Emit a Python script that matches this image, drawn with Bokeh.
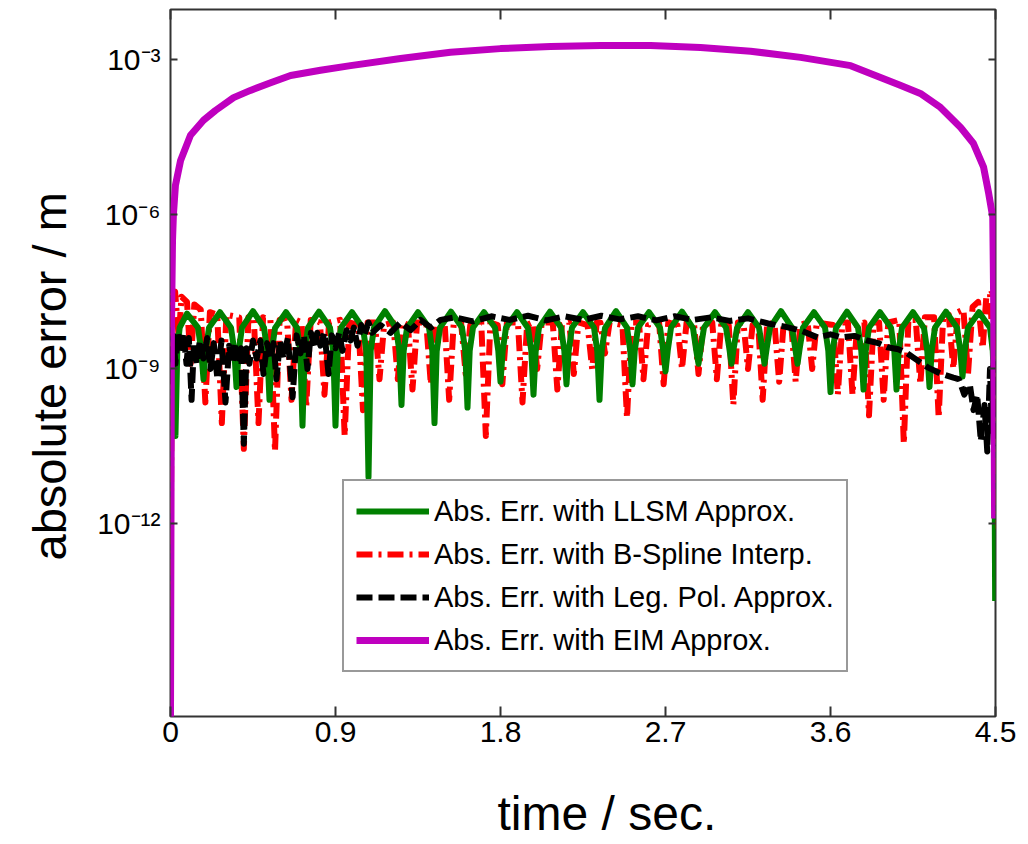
from bokeh.plotting import figure
from bokeh.models import (Range1d, FixedTicker, LinearAxis, LogAxis, Title,
                          Legend, LegendItem)
from bokeh.embed import file_html
from bokeh.resources import INLINE

FONT = "Liberation Sans"

# ---------------- axes / labels ----------------
x_ticks = [0.0, 0.9, 1.8, 2.7, 3.6, 4.5]
x_tick_labels = ["0", "0.9", "1.8", "2.7", "3.6", "4.5"]
y_ticks = [1e-12, 1e-9, 1e-6, 1e-3]
y_tick_labels = ["10\u207b\u00b9\u00b2", "10\u207b\u2079", "10\u207b\u2076", "10\u207b\u00b3"]
x_limits = [0.0, 4.5]
y_limits = [1.82e-16, 9.3e-3]
x_title = "time / sec."
y_title = "absolute error / m"
series_names = ["Abs. Err. with LLSM Approx.",
                "Abs. Err. with B-Spline Interp.",
                "Abs. Err. with Leg. Pol. Approx.",
                "Abs. Err. with EIM Approx."]

# ---------------- data (time in s, log10 of absolute error) ----------------
llsm_t = [0.0, 0.005, 0.011, 0.02, 0.027, 0.037, 0.05, 0.09, 0.15, 0.168,
          0.18, 0.192, 0.21, 0.27, 0.33, 0.348,
          0.36, 0.372, 0.39, 0.45, 0.51, 0.528,
          0.54, 0.552, 0.57, 0.63, 0.69, 0.708,
          0.72, 0.732, 0.75, 0.81, 0.87, 0.888,
          0.90, 0.912, 0.93, 0.99, 1.05, 1.068,
          1.08, 1.092, 1.11, 1.17, 1.23, 1.248,
          1.26, 1.272, 1.29, 1.35, 1.41, 1.428,
          1.44, 1.452, 1.47, 1.53, 1.59, 1.608,
          1.62, 1.632, 1.65, 1.71, 1.77, 1.788,
          1.80, 1.812, 1.83, 1.89, 1.95, 1.968,
          1.98, 1.992, 2.01, 2.07, 2.13, 2.148,
          2.16, 2.172, 2.19, 2.25, 2.31, 2.328,
          2.34, 2.352, 2.37, 2.43, 2.49, 2.508,
          2.52, 2.532, 2.55, 2.61, 2.67, 2.688,
          2.70, 2.712, 2.73, 2.79, 2.85, 2.868,
          2.88, 2.892, 2.91, 2.97, 3.03, 3.048,
          3.06, 3.072, 3.09, 3.15, 3.21, 3.228,
          3.24, 3.252, 3.27, 3.33, 3.39, 3.408,
          3.42, 3.432, 3.45, 3.51, 3.57, 3.588,
          3.60, 3.612, 3.63, 3.69, 3.75, 3.768,
          3.78, 3.792, 3.81, 3.87, 3.93, 3.948,
          3.96, 3.972, 3.99, 4.05, 4.11, 4.128,
          4.14, 4.152, 4.17, 4.23, 4.29, 4.308,
          4.32, 4.332, 4.35, 4.41, 4.47, 4.485,
          4.493, 4.498]
llsm_log10 = [-13.8, -8.9, -8.4, -9.2, -10.3, -8.65, -8.2, -7.93, -8.2, -8.65,
              -9.2, -8.65, -8.2, -7.9, -8.2, -8.65,
              -9.35, -8.65, -8.2, -7.88, -8.2, -8.65,
              -9.6, -8.66, -8.21, -7.9, -8.2, -8.65,
              -10.1, -8.65, -8.2, -7.89, -8.2, -8.66,
              -10.1, -8.66, -8.2, -7.9, -8.21, -8.65,
              -11.1, -8.65, -8.2, -7.88, -8.2, -8.65,
              -9.7, -8.65, -8.21, -7.9, -8.2, -8.65,
              -10.05, -8.66, -8.2, -7.89, -8.2, -8.66,
              -9.75, -8.65, -8.2, -7.9, -8.2, -8.65,
              -9.25, -8.65, -8.2, -7.9, -8.21, -8.65,
              -9.5, -8.66, -8.2, -7.89, -8.2, -8.65,
              -9.3, -8.65, -8.2, -7.9, -8.2, -8.66,
              -9.6, -8.65, -8.21, -7.88, -8.2, -8.65,
              -9.3, -8.66, -8.2, -7.9, -8.2, -8.65,
              -9.05, -8.65, -8.2, -7.89, -8.21, -8.65,
              -8.9, -8.6, -8.2, -7.9, -8.2, -8.6,
              -8.9, -8.6, -8.21, -7.9, -8.2, -8.6,
              -8.9, -8.6, -8.2, -7.88, -8.2, -8.61,
              -8.9, -8.6, -8.2, -7.9, -8.2, -8.65,
              -9.45, -8.65, -8.21, -7.89, -8.2, -8.65,
              -9.4, -8.66, -8.2, -7.9, -8.2, -8.65,
              -9.4, -8.65, -8.2, -7.9, -8.21, -8.66,
              -9.35, -8.65, -8.2, -7.89, -8.2, -8.65,
              -9.15, -8.65, -8.2, -7.9, -8.2, -8.65,
              -9.4, -13.5]

bspline_t = [0.0, 0.008, 0.025, 0.045, 0.06, 0.09, 0.11, 0.13, 0.165,
             0.19, 0.215, 0.255, 0.28, 0.305, 0.375, 0.40, 0.425, 0.455,
             0.48, 0.505, 0.545, 0.57, 0.595, 0.635, 0.66, 0.685, 0.715,
             0.74, 0.765, 0.815, 0.84, 0.865, 0.925, 0.95, 0.975, 1.025,
             1.05, 1.075, 1.115, 1.14, 1.165, 1.215, 1.24, 1.265, 1.295,
             1.32, 1.345, 1.395, 1.42, 1.445, 1.495, 1.52, 1.545, 1.585,
             1.61, 1.635, 1.695, 1.72, 1.745, 1.785, 1.81, 1.835, 1.895,
             1.92, 1.945, 1.975, 2.00, 2.025, 2.085, 2.11, 2.135, 2.175,
             2.20, 2.225, 2.275, 2.30, 2.325, 2.345, 2.37, 2.395, 2.465,
             2.49, 2.515, 2.555, 2.58, 2.605, 2.665, 2.69, 2.715, 2.765,
             2.79, 2.815, 2.855, 2.88, 2.905, 2.955, 2.98, 3.005, 3.045,
             3.07, 3.095, 3.125, 3.15, 3.175, 3.205, 3.23, 3.255, 3.295,
             3.32, 3.345, 3.385, 3.41, 3.435, 3.475, 3.50, 3.525, 3.615,
             3.64, 3.665, 3.695, 3.72, 3.745, 3.785, 3.81, 3.835, 3.865,
             3.89, 3.915, 3.975, 4.00, 4.025, 4.065, 4.09, 4.115, 4.165,
             4.19, 4.215, 4.245, 4.27, 4.295, 4.325, 4.35, 4.375, 4.405,
             4.43, 4.45, 4.47, 4.485, 4.492, 4.498]
bspline_log10 = [-13.6, -7.6, -7.5, -8.4, -7.6, -7.7, -8.9, -7.75, -7.85,
                 -9.65, -7.9, -7.95, -10.05, -7.95, -8.0, -10.55, -8.0, -8.05,
                 -10.05, -8.0, -8.05, -10.6, -8.05, -8.0, -9.6, -8.05, -8.1,
                 -9.75, -8.05, -8.1, -9.5, -8.1, -8.05, -10.3, -8.1, -8.15,
                 -9.8, -8.1, -8.1, -9.2, -8.15, -8.1, -9.2, -8.1, -8.15,
                 -9.4, -8.1, -8.1, -9.3, -8.15, -8.1, -9.6, -8.1, -8.1,
                 -9.1, -8.15, -8.1, -10.3, -8.1, -8.15, -9.3, -8.1, -8.1,
                 -9.65, -8.15, -8.1, -9.0, -8.1, -8.1, -9.4, -8.15, -8.1,
                 -9.1, -8.1, -8.15, -9.0, -8.1, -8.1, -8.7, -8.1, -8.15,
                 -9.95, -8.1, -8.1, -9.2, -8.15, -8.1, -9.3, -8.1, -8.15,
                 -9.0, -8.1, -8.1, -9.1, -8.15, -8.1, -9.2, -8.1, -8.15,
                 -9.7, -8.1, -8.1, -9.0, -8.15, -8.1, -9.6, -8.1, -8.15,
                 -9.25, -8.1, -8.1, -9.25, -8.15, -8.1, -9.0, -8.1, -8.15,
                 -9.5, -8.1, -8.1, -9.5, -8.15, -8.1, -9.9, -8.1, -8.1,
                 -9.6, -8.1, -8.05, -10.45, -8.05, -8.05, -9.3, -8.0, -8.0,
                 -9.95, -7.95, -7.95, -9.0, -7.9, -7.85, -9.1, -7.8, -7.7,
                 -8.6, -7.6, -7.55, -8.5, -10.0, -12.1]

legpol_t = [0.0, 0.005, 0.016, 0.027, 0.04, 0.055, 0.07, 0.087, 0.1, 0.115,
            0.128, 0.142, 0.16, 0.18, 0.2, 0.218, 0.236, 0.256, 0.278, 0.30,
            0.32, 0.338, 0.355, 0.371, 0.385, 0.40, 0.415, 0.43, 0.45, 0.47,
            0.49, 0.507, 0.527, 0.546, 0.562, 0.578, 0.597, 0.616, 0.64, 0.666,
            0.688, 0.709, 0.728, 0.747, 0.766, 0.786, 0.80, 0.818, 0.84, 0.862,
            0.88, 0.90, 0.92, 0.938, 0.96, 0.982, 1.0, 1.02, 1.04, 1.058,
            1.08, 1.10, 1.146, 1.20, 1.255, 1.31, 1.364, 1.42, 1.473, 1.55,
            1.65, 1.75, 1.85, 1.95, 2.05, 2.15, 2.25, 2.35, 2.45, 2.55,
            2.65, 2.75, 2.85, 2.95, 3.05, 3.15, 3.26, 3.35, 3.44, 3.53,
            3.60, 3.66, 3.73, 3.80, 3.86, 3.91, 3.97, 4.02, 4.08, 4.13,
            4.2, 4.27, 4.30, 4.33, 4.36, 4.38, 4.40, 4.42, 4.44, 4.455,
            4.47, 4.48, 4.49, 4.497]
legpol_log10 = [-9.3, -8.8, -8.35, -8.9, -8.3, -8.7, -8.3, -8.9, -8.4, -9.6,
                -8.5, -8.9, -8.45, -8.8, -8.4, -9.0, -8.5, -9.2, -8.45, -9.65,
                -8.55, -8.9, -8.5, -8.8, -8.6, -10.45, -8.6, -8.9, -8.45, -8.8,
                -8.45, -9.1, -8.5, -8.8, -8.5, -9.2, -8.45, -8.8, -8.4, -9.55,
                -8.35, -8.7, -8.35, -9.0, -8.3, -8.6, -8.3, -8.55, -8.3, -9.1,
                -8.35, -8.6, -8.3, -8.65, -8.25, -8.45, -8.2, -8.55, -8.15, -8.35,
                -8.1, -8.3, -8.15, -8.3, -8.1, -8.25, -8.05, -8.2, -8.05, -8.0,
                -8.08, -7.98, -8.05, -7.97, -8.06, -7.98, -8.05, -7.97, -8.04, -7.98,
                -8.06, -7.98, -8.05, -8.0, -8.07, -8.02, -8.12, -8.18, -8.26, -8.39,
                -8.33, -8.39, -8.36, -8.45, -8.5, -8.58, -8.62, -8.7, -8.85, -8.97,
                -9.09, -9.17, -9.2, -9.5, -9.3, -9.8, -9.5, -10.4, -9.7, -10.6,
                -9.0, -10.2, -8.9, -10.5]

eim_t = [0.0, 0.003, 0.005, 0.011, 0.016, 0.027, 0.055, 0.109, 0.18, 0.245,
         0.344, 0.436, 0.546, 0.655, 0.818, 0.982, 1.255, 1.527, 1.80, 2.073,
         2.346, 2.619, 2.891, 3.164, 3.437, 3.71, 3.98, 4.09, 4.20, 4.31,
         4.38, 4.435, 4.463, 4.485, 4.49, 4.495]
eim_log10 = [-15.8, -11.5, -8.26, -6.51, -6.0, -5.44, -4.96, -4.47, -4.18, -3.99,
             -3.74, -3.60, -3.45, -3.31, -3.21, -3.12, -2.98, -2.86, -2.79, -2.75,
             -2.73, -2.73, -2.77, -2.84, -2.96, -3.12, -3.50, -3.66, -3.93, -4.32,
             -4.63, -5.09, -5.60, -6.06, -7.67, -11.9]

llsm_v = [10 ** e for e in llsm_log10]
bspline_v = [10 ** e for e in bspline_log10]
legpol_v = [10 ** e for e in legpol_log10]
eim_v = [10 ** e for e in eim_log10]

# ---------------- figure ----------------
p = figure(frame_width=825, frame_height=707,
           x_range=Range1d(*x_limits), y_range=Range1d(*y_limits),
           y_axis_type="log", output_backend="svg", toolbar_location=None,
           min_border_left=170, min_border_right=25, min_border_top=9,
           min_border_bottom=127, background_fill_color="white",
           border_fill_color="white")
p.grid.visible = False
p.outline_line_color = "#333333"
p.outline_line_width = 2

r_red = p.line(bspline_t, bspline_v, line_color="#ff0000", line_width=6,
               line_dash="16 6 3 6", line_join="round")
r_green = p.line(llsm_t, llsm_v, line_color="#008000", line_width=6,
                 line_join="round")
r_black = p.line(legpol_t, legpol_v, line_color="#000000", line_width=6,
                 line_dash="16 6", line_join="round")
r_mag = p.line(eim_t, eim_v, line_color="#bf00bf", line_width=7,
               line_join="round")

# bottom axis
xa = p.xaxis[0]
xa.ticker = FixedTicker(ticks=x_ticks)
xa.major_label_overrides = {t: s for t, s in zip(x_ticks, x_tick_labels)}
xa.major_label_text_font = FONT
xa.major_label_text_font_size = "30px"
xa.major_label_text_color = "#000000"
xa.major_label_standoff = 5
xa.major_tick_in = 10
xa.major_tick_out = 0
xa.major_tick_line_width = 2
xa.major_tick_line_color = "#333333"
xa.minor_tick_line_color = None
xa.axis_line_color = None

# left axis
ya = p.yaxis[0]
ya.ticker = FixedTicker(ticks=y_ticks)
ya.major_label_overrides = {t: s for t, s in zip(y_ticks, y_tick_labels)}
ya.major_label_text_font = FONT
ya.major_label_text_font_size = "30px"
ya.major_label_text_color = "#000000"
ya.major_label_standoff = 10
ya.major_tick_in = 7
ya.major_tick_out = 0
ya.major_tick_line_width = 2
ya.major_tick_line_color = "#333333"
ya.minor_tick_line_color = None
ya.axis_line_color = None

top = LinearAxis(ticker=FixedTicker(ticks=x_ticks), major_label_text_font_size="1px",
                 major_label_text_color=None,
                 major_label_standoff=0, major_tick_in=10, major_tick_out=0,
                 major_tick_line_width=2, major_tick_line_color="#333333",
                 minor_tick_line_color=None, axis_line_color=None)
p.add_layout(top, "above")
right = LogAxis(ticker=FixedTicker(ticks=y_ticks), major_label_text_font_size="1px",
                major_label_text_color=None,
                major_label_standoff=0, major_tick_in=7, major_tick_out=0,
                major_tick_line_width=2, major_tick_line_color="#333333",
                minor_tick_line_color=None, axis_line_color=None)
p.add_layout(right, "right")

# axis titles
p.add_layout(Title(text=x_title, align="left", offset=327, standoff=80,
                   text_font=FONT, text_font_size="48px",
                   text_font_style="normal", text_color="#000000"), "below")
p.add_layout(Title(text=y_title, align="left", offset=156, standoff=38,
                   text_font=FONT, text_font_size="47px",
                   text_font_style="normal", text_color="#000000"), "left")

legend = Legend(items=[LegendItem(label=series_names[0], renderers=[r_green]),
                       LegendItem(label=series_names[1], renderers=[r_red]),
                       LegendItem(label=series_names[2], renderers=[r_black]),
                       LegendItem(label=series_names[3], renderers=[r_mag])],
                location=(172, 44), orientation="vertical",
                label_text_font=FONT, label_text_font_size="29px",
                label_text_color="#000000",
                glyph_width=73, glyph_height=36, label_height=36,
                label_standoff=5, spacing=7, padding=12, margin=0,
                border_line_color="#333333", border_line_width=2,
                background_fill_color="white", background_fill_alpha=1.0)
p.add_layout(legend)

open("out.html", "w").write(file_html(p, INLINE))
